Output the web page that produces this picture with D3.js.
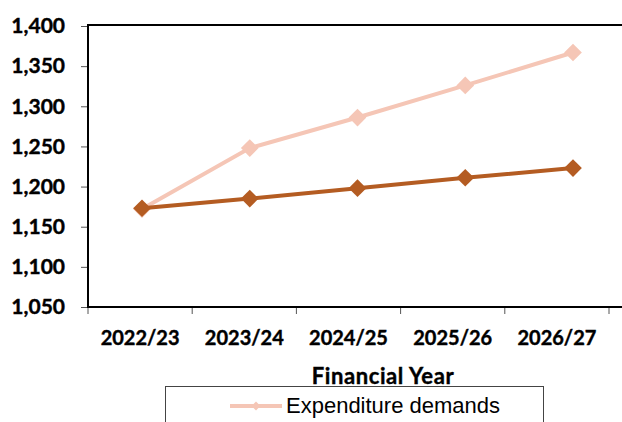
<!DOCTYPE html>
<html>
<head>
<meta charset="utf-8">
<script src="https://cdn.jsdelivr.net/npm/d3@7"></script>
<style>
  body { margin: 0; background: #fff; }
  svg { display: block; }
  .tick text { font-family: Lato, "Open Sans", sans-serif; font-weight: bold; font-size: 21px; fill: #000; stroke: #000; stroke-width: 0.4px; }
</style>
</head>
<body>
<div id="chart"></div>
<script>
var years = ["2022/23", "2023/24", "2024/25", "2025/26", "2026/27"];
var expenditure = [1172, 1248, 1286, 1326, 1367];
var funding = [1173, 1185, 1198, 1211, 1223];
var yTicks = [1050, 1100, 1150, 1200, 1250, 1300, 1350, 1400];

var width = 622, height = 422;
var plot = {left: 88, top: 26, right: 609, bottom: 307};

var svg = d3.select("#chart").append("svg")
    .attr("width", width)
    .attr("height", height);

var x = d3.scaleBand().domain(years).range([plot.left, plot.right]);
// excel drew the markers a little right of the category centres
var xp = d3.scalePoint().domain(years).range([142, 573]);
var y = d3.scaleLinear().domain([1050, 1400]).range([plot.bottom, plot.top]);

var yaxis = d3.axisLeft(y).tickValues(yTicks).tickSize(7).tickPadding(16).tickFormat(d3.format(","));
var gy = svg.append("g")
    .attr("transform", "translate(" + plot.left + ",0)")
    .call(yaxis);
gy.select(".domain").remove();
gy.selectAll(".tick line").attr("stroke", "#555");

var xaxis = d3.axisBottom(x).tickSize(0).tickPadding(24);
var gx = svg.append("g")
    .attr("transform", "translate(0," + plot.bottom + ")")
    .call(xaxis);
gx.select(".domain").remove();
gx.selectAll(".tick text").style("font-size", "20px");

// category boundary ticks
var bounds = years.map(function(d) { return x(d); }).concat([plot.right]);
svg.selectAll(".xtick").data(bounds).enter().append("line")
    .attr("x1", function(d) { return d; }).attr("x2", function(d) { return d; })
    .attr("y1", plot.bottom).attr("y2", plot.bottom + 7)
    .attr("stroke", "#555");

// plot frame (left, top, bottom)
svg.append("line").attr("x1", plot.left).attr("x2", width)
    .attr("y1", plot.top - 1).attr("y2", plot.top - 1)
    .attr("stroke", "#000").attr("stroke-width", 2);
svg.append("line").attr("x1", plot.left).attr("x2", width)
    .attr("y1", plot.bottom).attr("y2", plot.bottom)
    .attr("stroke", "#000").attr("stroke-width", 2);
svg.append("line").attr("x1", plot.left).attr("x2", plot.left)
    .attr("y1", plot.top - 2).attr("y2", plot.bottom + 1)
    .attr("stroke", "#000").attr("stroke-width", 2);

var line = d3.line()
    .x(function(d, i) { return xp(years[i]); })
    .y(function(d) { return y(d); });

var diamond = d3.symbol().type(d3.symbolDiamond2).size(200);

function drawSeries(vals, colour) {
  svg.append("path")
      .attr("d", line(vals))
      .attr("fill", "none")
      .attr("stroke", colour)
      .attr("stroke-width", 4);
  svg.append("g").selectAll("path").data(vals).enter().append("path")
      .attr("d", diamond)
      .attr("transform", function(d, i) { return "translate(" + xp(years[i]) + "," + y(d) + ")"; })
      .attr("fill", colour);
}

drawSeries(expenditure, "#F5C6B6");
drawSeries(funding, "#B45C22");

svg.append("text")
    .attr("x", 383).attr("y", 384)
    .attr("text-anchor", "middle")
    .style("font-family", "Lato, sans-serif")
    .style("font-weight", "bold")
    .style("font-size", "22px")
    .style("letter-spacing", "0.6px")
    .style("stroke", "#000").style("stroke-width", "0.4px")
    .text("Financial Year");

// legend
var legend = svg.append("g");
legend.append("rect")
    .attr("x", 165.5).attr("y", 386.5)
    .attr("width", 378).attr("height", 50)
    .attr("fill", "#fff")
    .attr("stroke", "#444").attr("stroke-width", 1);
legend.append("line")
    .attr("x1", 230).attr("x2", 282).attr("y1", 406).attr("y2", 406)
    .attr("stroke", "#F5C6B6").attr("stroke-width", 4);
legend.append("path")
    .attr("d", d3.symbol().type(d3.symbolDiamond2).size(50))
    .attr("transform", "translate(256,406)")
    .attr("fill", "#F5C6B6");
legend.append("text")
    .attr("x", 286).attr("y", 413)
    .style("font-family", "'Liberation Sans', Arial, sans-serif")
    .style("font-size", "22px")
    .text("Expenditure demands");
</script>
</body>
</html>
